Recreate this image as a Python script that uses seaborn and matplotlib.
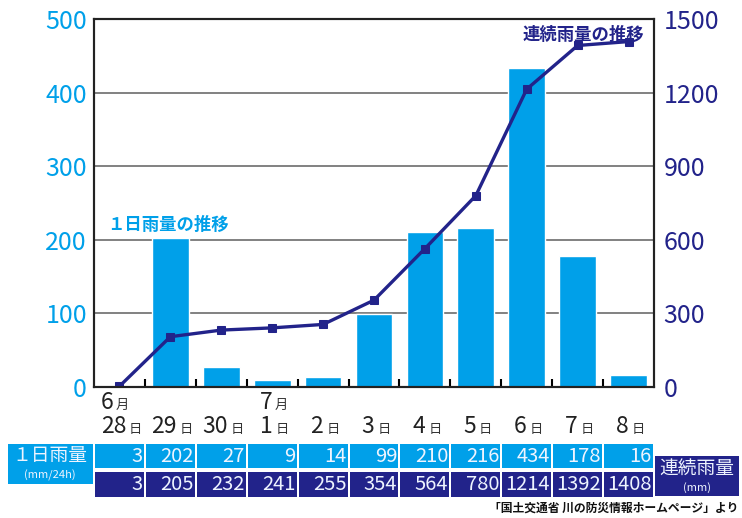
import numpy as np
import pandas as pd
import matplotlib
matplotlib.use("Agg")
import matplotlib.pyplot as plt
import seaborn as sns
from matplotlib.patches import Rectangle
from matplotlib.transforms import blended_transform_factory

# data
days = ["28", "29", "30", "1", "2", "3", "4", "5", "6", "7", "8"]
months = {0: "6", 3: "7"}
daily_rain = [3, 202, 27, 9, 14, 99, 210, 216, 434, 178, 16]
cum_rain = [3, 205, 232, 241, 255, 354, 564, 780, 1214, 1392, 1408]

LIGHT = "#00a0e9"
NAVY = "#22238a"
FONT = ["Noto Sans CJK JP", "DejaVu Sans"]

sns.set_style("ticks")
plt.rcParams["font.family"] = FONT

W, H = 742, 518
fig = plt.figure(figsize=(W / 100, H / 100), dpi=100)
ax = fig.add_axes([94 / W, 1 - 387 / H, (654 - 94) / W, (387 - 19) / H])

df = pd.DataFrame({"pos": np.arange(len(days)), "daily": daily_rain, "cum": cum_rain})

sns.barplot(data=df, x="pos", y="daily", color=LIGHT, saturation=1, width=0.72,
            native_scale=True, ax=ax, zorder=2)
ax.set_xlim(-0.5, len(days) - 0.5)
ax.set_ylim(0, 500)
ax.set_yticks(range(0, 501, 100))
ax.yaxis.grid(True, color="#777777", linewidth=1.3)
ax.set_axisbelow(True)
ax.set_xlabel("")
ax.set_ylabel("")
ax.set_xticks([])
ax.set_xticks(np.arange(0.5, len(days) - 1), minor=True)
ax.tick_params(axis="x", which="minor", direction="in", length=6, width=1.5, color="black")
ax.tick_params(axis="y", length=0, pad=5, labelsize=18, labelcolor=LIGHT)
for s in ax.spines.values():
    s.set_visible(True)
    s.set_color("#222222")
    s.set_linewidth(1.5)

ax2 = ax.twinx()
sns.lineplot(data=df, x="pos", y="cum", color=NAVY, linewidth=2.4, marker="s",
             markersize=6, markeredgecolor=NAVY, ax=ax2)
ax2.set_ylim(0, 1500)
ax2.set_yticks(range(0, 1501, 300))
ax2.set_ylabel("")
ax2.tick_params(axis="y", length=0, pad=7, labelsize=18, labelcolor=NAVY)
for s in ax2.spines.values():
    s.set_visible(True)
    s.set_color("#222222")
    s.set_linewidth(1.5)

ax.text(0.024, 0.44, "１日雨量の推移", transform=ax.transAxes, color=LIGHT,
        fontsize=12.5, fontweight="bold", va="center")
ax2.text(0.982, 0.957, "連続雨量の推移", transform=ax2.transAxes, color=NAVY,
         fontsize=12.5, fontweight="bold", va="center", ha="right")

# date labels under the axis (number + small 日, month above)
fig.canvas.draw()
renderer = fig.canvas.get_renderer()
for i, d in enumerate(days):
    xc = ax.transData.transform((i, 0))[0] + 2
    t_num = fig.text(0, 1 - 433 / H, d, fontsize=16.5, color="#222222", va="baseline")
    t_day = fig.text(0, 1 - 433 / H, "日", fontsize=9.5, color="#333333", va="baseline")
    w1 = t_num.get_window_extent(renderer).width
    w2 = t_day.get_window_extent(renderer).width
    left = xc - (w1 + 3 + w2) / 2
    t_num.set_x(left / W)
    t_day.set_x((left + w1 + 3) / W)
    if i in months:
        t_m = fig.text(left / W, 1 - 409 / H, months[i], fontsize=16.5, color="#222222",
                       va="baseline")
        wm = t_m.get_window_extent(renderer).width
        fig.text((left + wm + 2) / W, 1 - 409 / H, "月", fontsize=9.5, color="#333333",
                 va="baseline")

# table below the chart
trans = blended_transform_factory(ax.transData, fig.transFigure)
gap = 0.02
rows = [(daily_rain, LIGHT, 444, 468), (cum_rain, NAVY, 472, 497)]
for values, col, top, bot in rows:
    for i, v in enumerate(values):
        fig.add_artist(Rectangle((i - 0.5 + gap, 1 - bot / H), 1 - 2 * gap, (bot - top) / H,
                                 transform=trans, facecolor=col, edgecolor="none",
                                 clip_on=False))
        fig.text(i + 0.46, 1 - (top + bot) / 2 / H, str(v), transform=trans, ha="right",
                 va="center", fontsize=14.5, color="#eef4ff")

fig.add_artist(Rectangle((8 / W, 1 - 484 / H), 85 / W, 40 / H, transform=fig.transFigure,
                         facecolor=LIGHT, edgecolor="none"))
fig.text(50 / W, 1 - 455 / H, "１日雨量", ha="center", va="center", fontsize=13.5, color="#eef4ff")
fig.text(50 / W, 1 - 475 / H, "(mm/24h)", ha="center", va="center", fontsize=8, color="#eef4ff")

fig.add_artist(Rectangle((655 / W, 1 - 496 / H), 84 / W, 40 / H, transform=fig.transFigure,
                         facecolor=NAVY, edgecolor="none"))
fig.text(697 / W, 1 - 468 / H, "連続雨量", ha="center", va="center", fontsize=13.5, color="#eef4ff")
fig.text(697 / W, 1 - 488 / H, "(mm)", ha="center", va="center", fontsize=8, color="#eef4ff")

fig.text(738 / W, 1 - 508 / H, "「国土交通省 川の防災情報ホームページ」より", ha="right",
         va="center", fontsize=8.5, fontweight="bold", color="#111111")

fig.savefig("out.png", dpi=100)
